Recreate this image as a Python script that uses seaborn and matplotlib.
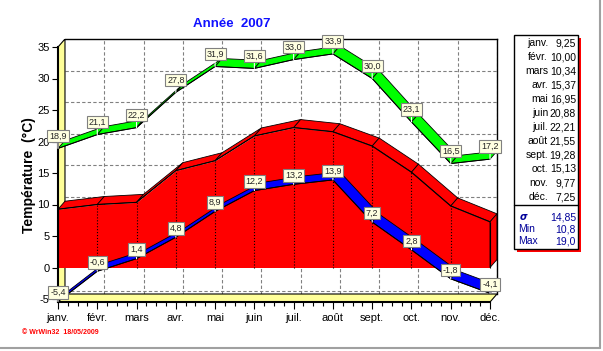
import matplotlib
matplotlib.use('Agg')
import matplotlib.pyplot as plt
import seaborn as sns
from matplotlib.patches import Polygon, Rectangle
from matplotlib.lines import Line2D
from matplotlib.ticker import MultipleLocator

# ========== données ==========
mois = ['janv.', 'févr.', 'mars', 'avr.', 'mai', 'juin', 'juil.', 'août', 'sept.', 'oct.', 'nov.', 'déc.']
t_max = [18.9, 21.1, 22.2, 27.8, 31.9, 31.6, 33.0, 33.9, 30.0, 23.1, 16.5, 17.2]
t_min = [-5.4, -0.6, 1.4, 4.8, 8.9, 12.2, 13.2, 13.9, 7.2, 2.8, -1.8, -4.1]
t_moy = [9.25, 10.00, 10.34, 15.37, 16.95, 20.88, 22.21, 21.55, 19.28, 15.13, 9.77, 7.25]
y_ticks = [-5, 0, 5, 10, 15, 20, 25, 30, 35]
stats_noms = ['σ', 'Min', 'Max']
stats_vals = ['14,85', '10,8', '19,0']
titre = 'Année  2007'

# ========== style ==========
sns.set_theme(style='white')
plt.rcParams['font.family'] = ['Liberation Sans', 'DejaVu Sans']
plt.rcParams['axes.unicode_minus'] = False

W, H = 603, 351
def fx(px):
    return px / W
def fy(py):
    return 1 - py / H

JAUNE = '#FFFF99'
ROUGE = '#FF0000'
VERT = '#00FF00'
BLEU = '#0000FF'

fig = plt.figure(figsize=(6.03, 3.51), dpi=100)
fig.patch.set_facecolor('white')

# axes: plan avant, janv. a x=58 px, 35 a y=47 px
ax = fig.add_axes([fx(58), fy(302), (497 - 58) / W, (302 - 39) / H])
xs = list(range(len(mois)))
x_max = len(mois) - 1
px_x = 39.36   # px par mois
px_y = 6.3     # px par degre
dx = 7 / px_x  # profondeur 3D
dy = 8 / px_y
y_bas = -5 - 3 / px_y
y_haut = 35 + dy
ax.set_xlim(0, x_max + dx)
ax.set_ylim(y_bas, y_haut)

# grille du mur du fond
for v in y_ticks[:-1]:
    ax.plot([dx, x_max + dx], [v + dy, v + dy], color='#808080', lw=0.8, ls=(0, (3, 2)), zorder=0.5)
for i in xs[1:]:
    ax.plot([i + dx, i + dx], [y_bas + dy, y_haut], color='#808080', lw=0.8, ls=(0, (3, 2)), zorder=0.5)

# mur gauche et sol jaunes
ax.add_patch(Polygon([(0, y_bas), (0, 35), (dx, y_haut), (dx, y_bas + dy)],
                     closed=True, fc=JAUNE, ec='black', lw=0.8, zorder=1))
ax.add_patch(Polygon([(0, y_bas), (x_max, y_bas), (x_max + dx, y_bas + dy), (dx, y_bas + dy)],
                     closed=True, fc=JAUNE, ec='black', lw=0.8, zorder=1))

# aire rouge (moyennes)
ax.fill_between(xs, 0, t_moy, color=ROUGE, lw=0, zorder=2)
for i in range(len(xs) - 1):
    ax.add_patch(Polygon([(xs[i], t_moy[i]), (xs[i + 1], t_moy[i + 1]),
                          (xs[i + 1] + dx, t_moy[i + 1] + dy), (xs[i] + dx, t_moy[i] + dy)],
                         closed=True, fc=ROUGE, ec='black', lw=0.6, zorder=2))
ax.add_patch(Polygon([(x_max, 0), (x_max, t_moy[-1]), (x_max + dx, t_moy[-1] + dy), (x_max + dx, dy)],
                     closed=True, fc=ROUGE, ec='black', lw=0.6, zorder=2))
ax.vlines(xs[1:-1], 0, t_moy[1:-1], colors='black', linestyles=':', lw=0.8, zorder=2.1)
ax.vlines(x_max, 0, t_moy[-1], colors='black', lw=0.8, zorder=2.1)
sns.lineplot(x=xs, y=t_moy, ax=ax, color='black', lw=0.8, zorder=2.2)


def ruban(vals, couleur, z):
    for i in range(len(xs) - 1):
        ax.add_patch(Polygon([(xs[i], vals[i]), (xs[i + 1], vals[i + 1]),
                              (xs[i + 1] + dx, vals[i + 1] + dy), (xs[i] + dx, vals[i] + dy)],
                             closed=True, fc=couleur, ec='black', lw=0.6, zorder=z))
    sns.lineplot(x=xs, y=vals, ax=ax, color='black', lw=0.7, zorder=z + 0.1)


ruban(t_max, VERT, 3)
ruban(t_min, BLEU, 4)


def etiquettes(vals, decal):
    for i, v in zip(xs, vals):
        ax.annotate(f'{v:.1f}'.replace('.', ','), xy=(i, v), xytext=(0, decal),
                    textcoords='offset pixels', ha='center', va='center', fontsize=6.5,
                    bbox=dict(boxstyle='square,pad=0.2', fc='#FFFFE1', ec='#808080', lw=0.8),
                    arrowprops=dict(arrowstyle='-', color='white', lw=0.8, shrinkA=0, shrinkB=0),
                    zorder=6, annotation_clip=False)


etiquettes(t_max, 12.5)
etiquettes(t_min, 9)

# axes et graduations
for s in ['left', 'bottom', 'top', 'right']:
    ax.spines[s].set_visible(True)
    ax.spines[s].set_color('black')
    ax.spines[s].set_linewidth(1)
ax.spines['left'].set_bounds(y_bas, 35)
ax.spines['bottom'].set_bounds(0, x_max)
ax.spines['top'].set_bounds(dx, x_max + dx)
ax.spines['right'].set_bounds(y_bas + dy, y_haut)
ax.spines['bottom'].set_linewidth(1.5)
ax.spines['left'].set_linewidth(1.5)

ax.set_yticks(y_ticks)
ax.set_yticklabels([str(v) for v in y_ticks])
ax.set_xticks(xs)
ax.set_xticklabels(mois)
ax.xaxis.set_minor_locator(MultipleLocator(0.25))
ax.tick_params(axis='both', which='both', bottom=True, left=True, direction='out',
               colors='black', width=0.8, labelsize=8)
ax.tick_params(axis='y', length=4, pad=2)
ax.tick_params(axis='x', which='major', length=5, pad=3)
ax.tick_params(axis='x', which='minor', length=3)
ax.grid(False)

ax.set_ylabel('Température  (°C)', fontsize=10, fontweight='bold', color='black')
ax.yaxis.set_label_coords((36 - 58) / (497 - 58), (302 - 175) / (302 - 39))

fig.text(fx(232), fy(24), titre, ha='center', va='center', fontsize=9.5,
         fontweight='bold', color='#1010FF')

# tableau de droite
fig.add_artist(Rectangle((fx(517), fy(252)), fx(578) - fx(514), fy(35) - fy(249),
                         transform=fig.transFigure, fc=ROUGE, ec='none'))
fig.add_artist(Rectangle((fx(514), fy(249)), fx(578) - fx(514), fy(35) - fy(249),
                         transform=fig.transFigure, fc='white', ec='black', lw=1))
fig.add_artist(Line2D([fx(514), fx(578)], [fy(205), fy(205)], color='black', lw=1))
for i, (nom, v) in enumerate(zip(mois, t_moy)):
    yy = fy(43 + 14 * i)
    fig.text(fx(548), yy, nom, ha='right', va='center', fontsize=7.5, color='black')
    fig.text(fx(576), yy, f'{v:.2f}'.replace('.', ','), ha='right', va='center', fontsize=7.5, color='black')
for i, (nom, v) in enumerate(zip(stats_noms, stats_vals)):
    yy = fy(217 + 12 * i)
    if i == 0:
        fig.text(fx(523), yy, nom, ha='center', va='center', fontsize=7, color='#000099',
                 fontweight='bold', style='italic', family=['DejaVu Sans'])
    else:
        fig.text(fx(518), yy, nom, ha='left', va='center', fontsize=7.5, color='#000099')
    fig.text(fx(576), yy, v, ha='right', va='center', fontsize=7.5, color='#000099')

# signature et bords de fenetre
fig.text(fx(22), fy(332), '© WrWin32  18/05/2009', ha='left', va='center', fontsize=5,
         fontweight='bold', color='red')
fig.add_artist(Line2D([fx(600), fx(600)], [fy(348), 1], color='#A0A0A0', lw=1.5))
fig.add_artist(Line2D([0, fx(600)], [fy(348), fy(348)], color='#A0A0A0', lw=1.5))

fig.savefig('out.png', dpi=100)
plt.close(fig)
